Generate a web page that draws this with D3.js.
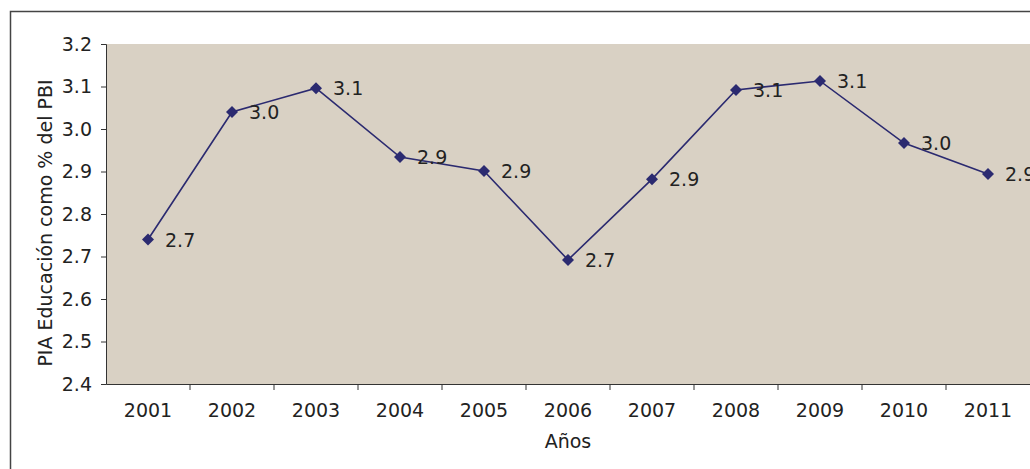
<!DOCTYPE html>
<style>
body { margin: 0; background: #fff; }
</style>
<svg width="1030" height="469" font-family="'DejaVu Sans', Verdana, sans-serif" font-size="19"></svg>
<script src="https://d3js.org/d3.v7.min.js"></script>
<script>

const years = ['2001', '2002', '2003', '2004', '2005', '2006', '2007', '2008', '2009', '2010', '2011'];
const values = [2.74, 3.04, 3.096, 2.934, 2.901, 2.692, 2.882, 3.092, 3.113, 2.967, 2.894];
const labels = ['2.7', '3.0', '3.1', '2.9', '2.9', '2.7', '2.9', '3.1', '3.1', '3.0', '2.9'];
const yTicks = [2.4, 2.5, 2.6, 2.7, 2.8, 2.9, 3.0, 3.1, 3.2];

const svg = d3.select('svg');
const margin = {top: 44, left: 106, right: 0, bottom: 85};
const width = 1030, height = 469;

// outer frame
svg.append('rect')
	.attr('x', 10.5).attr('y', 11.5)
	.attr('width', 1040).attr('height', 480)
	.attr('fill', 'none')
	.attr('stroke', '#444')
	.attr('stroke-width', 1.5);

const x = d3.scaleBand()
	.domain(years)
	.range([margin.left, width - margin.right]);

const y = d3.scaleLinear()
	.domain([2.4, 3.2])
	.range([height - margin.bottom, margin.top]);

svg.append('rect')
	.attr('x', margin.left).attr('y', margin.top)
	.attr('width', width - margin.right - margin.left)
	.attr('height', y(2.4) - y(3.2))
	.attr('fill', '#d9d1c4');

const yAxis = svg.append('g')
	.attr('transform', `translate(${margin.left},0)`)
	.call(d3.axisLeft(y).tickValues(yTicks).tickFormat(d3.format('.1f')).tickSize(5).tickPadding(9));

const xAxis = svg.append('g')
	.attr('transform', `translate(0,${y(2.4)})`)
	.call(d3.axisBottom(x).tickSize(0).tickPadding(20));

xAxis.selectAll('.tick-b')
	.data(years.slice(1))
	.enter().append('line')
	.attr('x1', (d) => x(d)).attr('x2', (d) => x(d))
	.attr('y1', 0).attr('y2', 6)
	.attr('stroke', '#333');

[yAxis, xAxis].forEach((g) => {
	g.attr('font-family', null).attr('font-size', null);
	g.select('.domain').attr('stroke', '#333');
	g.selectAll('.tick line').attr('stroke', '#333');
	g.selectAll('.tick text').attr('fill', '#222');
});

const line = d3.line()
	.x((d, i) => x(years[i]) + x.bandwidth() / 2)
	.y((d) => y(d));

svg.append('path')
	.datum(values)
	.attr('d', line)
	.attr('fill', 'none')
	.attr('stroke', '#2b2a70')
	.attr('stroke-width', 1.6);

svg.selectAll('.marker')
	.data(values)
	.enter().append('path')
	.attr('class', 'marker')
	.attr('d', 'M0,-6L6,0L0,6L-6,0Z')
	.attr('transform', (d, i) => `translate(${x(years[i]) + x.bandwidth() / 2},${y(d)})`)
	.attr('fill', '#2b2a70');

svg.selectAll('.lbl')
	.data(values)
	.enter().append('text')
	.attr('class', 'lbl')
	.attr('x', (d, i) => x(years[i]) + x.bandwidth() / 2 + 17)
	.attr('y', (d) => y(d) + 7)
	.attr('fill', '#222')
	.text((d, i) => labels[i]);

svg.append('text')
	.attr('transform', 'translate(52,223) rotate(-90)')
	.attr('text-anchor', 'middle')
	.attr('fill', '#222')
	.text('PIA Educación como % del PBI');

svg.append('text')
	.attr('x', 568)
	.attr('y', 448)
	.attr('text-anchor', 'middle')
	.attr('fill', '#222')
	.text('Años');

</script>
